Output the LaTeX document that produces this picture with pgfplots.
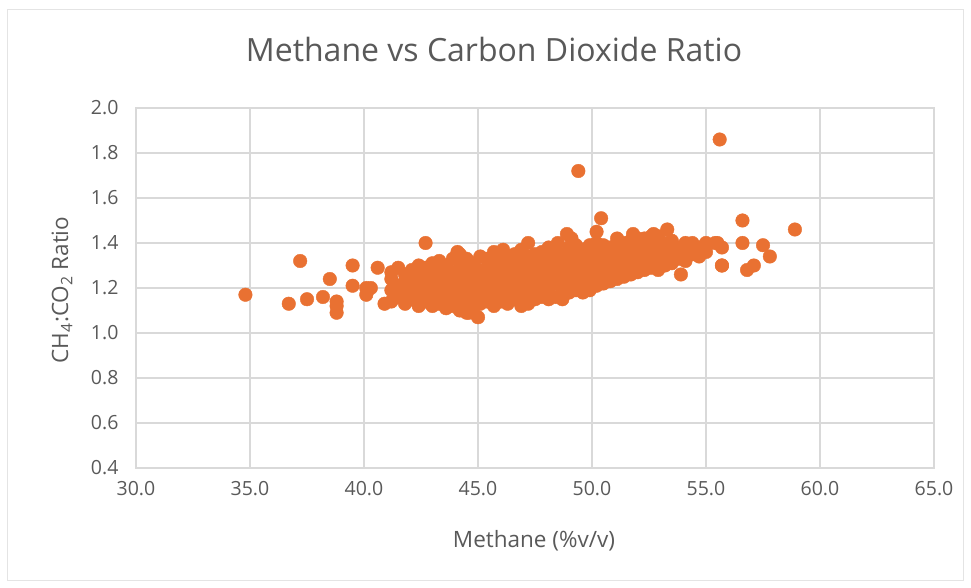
\documentclass[border=0pt]{standalone}
\usepackage{fontspec}
\setmainfont{Open Sans}
\usepackage{pgfplots}
\pgfplotsset{compat=1.18}
\definecolor{txt}{HTML}{595959}
\definecolor{grd}{HTML}{D9D9D9}
\definecolor{dot}{HTML}{E97132}
\begin{document}
\begin{tikzpicture}[x=1pt,y=1pt]
\begin{axis}[
  at={(0,0)}, anchor=south west,
  scale only axis, width=798pt, height=360pt,
  xmin=30, xmax=65, ymin=0.4, ymax=2.0,
  xtick={30,35,...,65}, ytick={0.4,0.6,...,2.0},
  grid=major, major grid style={grd, line width=1.2pt},
  axis line style={grd, line width=1.2pt},
  tick style={draw=none},
  ticklabel style={font=\fontsize{19.5}{22}\selectfont, text=txt},
  /pgf/number format/assume math mode=true,
  xticklabel={\pgfmathprintnumber[fixed,precision=1,fixed zerofill]{\tick}},
  yticklabel={\pgfmathprintnumber[fixed,precision=1,fixed zerofill]{\tick}},
  xticklabel style={yshift=-10pt},
  yticklabel style={xshift=-14pt},
  clip=false,
]
\addplot[only marks, mark=*, mark size=6.8pt, mark options={fill=dot, draw=dot}] table[row sep=\\] {
x y\\
34.8 1.17\\ 36.7 1.13\\ 37.2 1.32\\ 37.5 1.15\\ 38.2 1.16\\ 38.5 1.24\\ 38.8 1.14\\ 38.8 1.12\\ 38.8 1.09\\
39.5 1.30\\ 39.5 1.21\\ 40.1 1.20\\ 40.1 1.17\\ 40.6 1.29\\ 40.3 1.20\\ 40.9 1.13\\ 42.7 1.40\\ 44.6 1.09\\ 45.0 1.07\\
49.4 1.72\\ 55.6 1.86\\ 50.4 1.51\\ 50.2 1.45\\ 48.9 1.44\\ 48.5 1.40\\ 49.1 1.42\\ 47.2 1.40\\ 51.8 1.44\\ 53.3 1.46\\
52.7 1.44\\ 55.5 1.40\\ 55.7 1.30\\ 53.9 1.26\\ 56.6 1.50\\ 58.9 1.46\\ 56.6 1.40\\ 57.5 1.39\\ 57.8 1.34\\ 55.7 1.30\\
56.8 1.28\\ 57.1 1.30\\ 55.4 1.40\\ 55.7 1.38\\ 54.9 1.37\\ 44.1 1.36\\ 46.1 1.37\\ 54.4 1.40\\ 54.7 1.34\\
41.2 1.14\\ 41.2 1.19\\ 41.2 1.24\\ 41.2 1.27\\
41.5 1.16\\ 41.5 1.21\\ 41.5 1.29\\
41.8 1.13\\ 41.8 1.18\\ 41.8 1.23\\ 41.8 1.26\\
42.1 1.15\\ 42.1 1.20\\ 42.1 1.25\\ 42.1 1.28\\
42.4 1.12\\ 42.4 1.17\\ 42.4 1.22\\ 42.4 1.27\\ 42.4 1.30\\
42.7 1.14\\ 42.7 1.19\\ 42.7 1.24\\ 42.7 1.29\\
43.0 1.12\\ 43.0 1.16\\ 43.0 1.21\\ 43.0 1.26\\ 43.0 1.31\\
43.3 1.13\\ 43.3 1.18\\ 43.3 1.23\\ 43.3 1.28\\ 43.3 1.32\\
43.6 1.11\\ 43.6 1.15\\ 43.6 1.20\\ 43.6 1.25\\ 43.6 1.30\\
43.9 1.12\\ 43.9 1.17\\ 43.9 1.22\\ 43.9 1.27\\ 43.9 1.33\\
44.2 1.10\\ 44.2 1.14\\ 44.2 1.19\\ 44.2 1.24\\ 44.2 1.29\\ 44.2 1.35\\
44.5 1.09\\ 44.5 1.13\\ 44.5 1.18\\ 44.5 1.23\\ 44.5 1.28\\ 44.5 1.33\\
44.8 1.11\\ 44.8 1.16\\ 44.8 1.21\\ 44.8 1.26\\ 44.8 1.31\\
45.1 1.13\\ 45.1 1.18\\ 45.1 1.23\\ 45.1 1.28\\ 45.1 1.34\\
45.4 1.14\\ 45.4 1.19\\ 45.4 1.24\\ 45.4 1.29\\ 45.4 1.33\\
45.7 1.12\\ 45.7 1.17\\ 45.7 1.22\\ 45.7 1.27\\ 45.7 1.32\\ 45.7 1.36\\
46.0 1.14\\ 46.0 1.19\\ 46.0 1.24\\ 46.0 1.29\\ 46.0 1.34\\
46.3 1.13\\ 46.3 1.18\\ 46.3 1.23\\ 46.3 1.28\\ 46.3 1.33\\
46.6 1.15\\ 46.6 1.20\\ 46.6 1.25\\ 46.6 1.30\\ 46.6 1.35\\
46.9 1.12\\ 46.9 1.17\\ 46.9 1.22\\ 46.9 1.27\\ 46.9 1.32\\ 46.9 1.37\\
47.2 1.13\\ 47.2 1.19\\ 47.2 1.24\\ 47.2 1.29\\ 47.2 1.34\\
47.5 1.15\\ 47.5 1.20\\ 47.5 1.25\\ 47.5 1.30\\ 47.5 1.35\\
47.8 1.16\\ 47.8 1.21\\ 47.8 1.26\\ 47.8 1.31\\ 47.8 1.36\\
48.1 1.15\\ 48.1 1.20\\ 48.1 1.25\\ 48.1 1.30\\ 48.1 1.35\\ 48.1 1.38\\
48.4 1.16\\ 48.4 1.22\\ 48.4 1.27\\ 48.4 1.32\\ 48.4 1.37\\
48.7 1.15\\ 48.7 1.20\\ 48.7 1.25\\ 48.7 1.30\\ 48.7 1.35\\
49.0 1.18\\ 49.0 1.23\\ 49.0 1.28\\ 49.0 1.33\\ 49.0 1.38\\
49.3 1.19\\ 49.3 1.24\\ 49.3 1.29\\ 49.3 1.34\\ 49.3 1.39\\
49.6 1.18\\ 49.6 1.23\\ 49.6 1.28\\ 49.6 1.33\\ 49.6 1.37\\
49.9 1.19\\ 49.9 1.24\\ 49.9 1.29\\ 49.9 1.34\\ 49.9 1.39\\
50.2 1.21\\ 50.2 1.26\\ 50.2 1.31\\ 50.2 1.36\\ 50.2 1.40\\
50.5 1.22\\ 50.5 1.27\\ 50.5 1.32\\ 50.5 1.37\\ 50.5 1.39\\
50.8 1.23\\ 50.8 1.28\\ 50.8 1.33\\ 50.8 1.38\\
51.1 1.24\\ 51.1 1.29\\ 51.1 1.34\\ 51.1 1.39\\ 51.1 1.42\\
51.4 1.25\\ 51.4 1.30\\ 51.4 1.35\\ 51.4 1.40\\
51.7 1.26\\ 51.7 1.31\\ 51.7 1.36\\ 51.7 1.41\\
52.0 1.27\\ 52.0 1.32\\ 52.0 1.37\\ 52.0 1.42\\
52.3 1.28\\ 52.3 1.33\\ 52.3 1.38\\ 52.3 1.42\\
52.6 1.29\\ 52.6 1.34\\ 52.6 1.39\\ 52.6 1.43\\
52.9 1.28\\ 52.9 1.33\\ 52.9 1.38\\ 52.9 1.43\\
53.2 1.30\\ 53.2 1.35\\ 53.2 1.40\\
53.5 1.31\\ 53.5 1.36\\ 53.5 1.41\\
53.8 1.33\\ 53.8 1.38\\
54.1 1.32\\ 54.1 1.37\\ 54.1 1.40\\
54.4 1.35\\ 54.7 1.38\\ 55.0 1.36\\ 55.0 1.40\\
};
\end{axis}
\node[text=txt, font=\fontsize{32}{38}\selectfont] at (358,418) {Methane vs Carbon Dioxide Ratio};
\node[text=txt, font=\fontsize{22.5}{26}\selectfont] at (398,-73) {Methane (\%v/v)};
\node[text=txt, font=\fontsize{22.5}{26}\selectfont, rotate=90] at (-74,178) {CH\textsubscript{4}:CO\textsubscript{2} Ratio};
\draw[grd!70, line width=1pt] (-128,-112) rectangle (827,458);
\useasboundingbox (-136,-120) rectangle (835,468);
\end{tikzpicture}
\end{document}
